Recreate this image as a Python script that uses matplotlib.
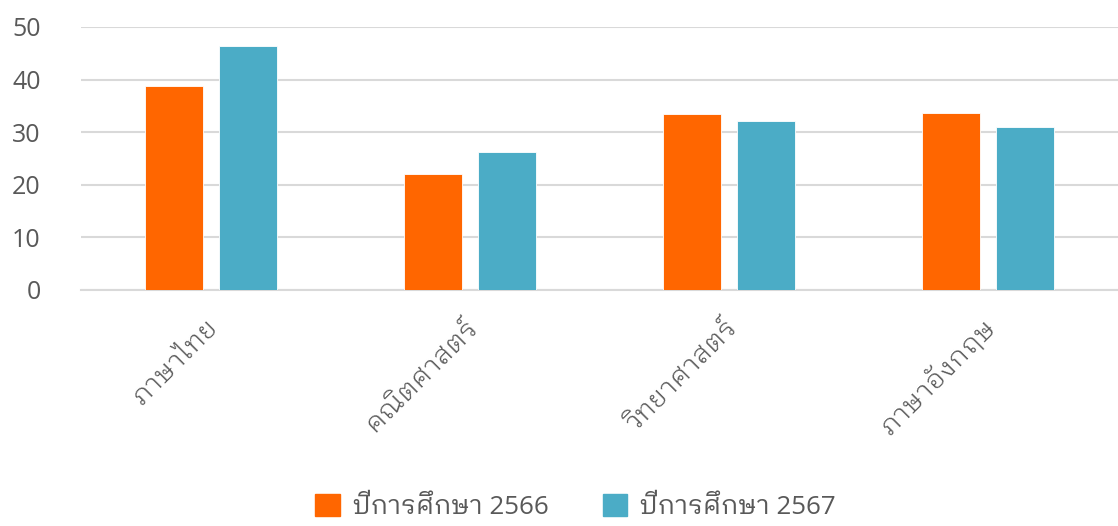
import numpy as np
import matplotlib
matplotlib.use('Agg')
import matplotlib.pyplot as plt
import matplotlib.transforms as mtransforms
from matplotlib.patches import Patch

plt.rcParams['font.family'] = ['Open Sans', 'IBM Plex Sans Thai Looped', 'DejaVu Sans']

subjects = ['ภาษาไทย', 'คณิตศาสตร์', 'วิทยาศาสตร์', 'ภาษาอังกฤษ']
series_names = ['ปีการศึกษา 2566', 'ปีการศึกษา 2567']
scores_2566 = [38.8, 22.0, 33.5, 33.7]
scores_2567 = [46.3, 26.2, 32.2, 31.0]
colors = ['#FF6600', '#4BACC6']

fig = plt.figure(figsize=(11.18, 5.26), dpi=100)
ax = fig.add_axes([0.0725, 0.4487, 0.9275, 0.5])

x = np.arange(len(subjects))
w = 0.224
off = 0.143
ax.bar(x - off, scores_2566, w, color=colors[0], edgecolor='white', linewidth=0.6, zorder=3)
ax.bar(x + off, scores_2567, w, color=colors[1], edgecolor='white', linewidth=0.6, zorder=3)

ax.set_xlim(-0.5, 3.5)
ax.set_ylim(0, 50)
ax.set_yticks(range(0, 51, 10))
ax.yaxis.grid(True, color='#d9d9d9', linewidth=1.5, zorder=0)
ax.set_axisbelow(True)
for s in ['top', 'right', 'left']:
    ax.spines[s].set_visible(False)
ax.spines['bottom'].set_color('#d9d9d9')
ax.spines['bottom'].set_linewidth(1.5)

ax.tick_params(axis='y', length=0, pad=29, labelsize=18, labelcolor='#595959')
ax.tick_params(axis='x', length=0, pad=17, labelcolor='#595959')
ax.set_yticklabels([str(v) for v in range(0, 51, 10)], ha='right')
ax.set_xticks(x)
ax.set_xticklabels(subjects, rotation=45, ha='right', va='top', rotation_mode='anchor',
                   fontsize=19.5, fontweight=300)
shift = mtransforms.ScaledTranslation(-6 / 100, 0, fig.dpi_scale_trans)
for lab in ax.get_xticklabels():
    lab.set_transform(lab.get_transform() + shift)

handles = [Patch(color=c, label=n) for c, n in zip(colors, series_names)]
fig.legend(handles=handles, loc='center', bbox_to_anchor=(0.515, 0.036), ncol=2, frameon=False,
           prop={'size': 18.6}, labelcolor='#595959', handlelength=0.95,
           handleheight=0.95, handletextpad=0.5, columnspacing=2.1)

fig.savefig('out.png')
